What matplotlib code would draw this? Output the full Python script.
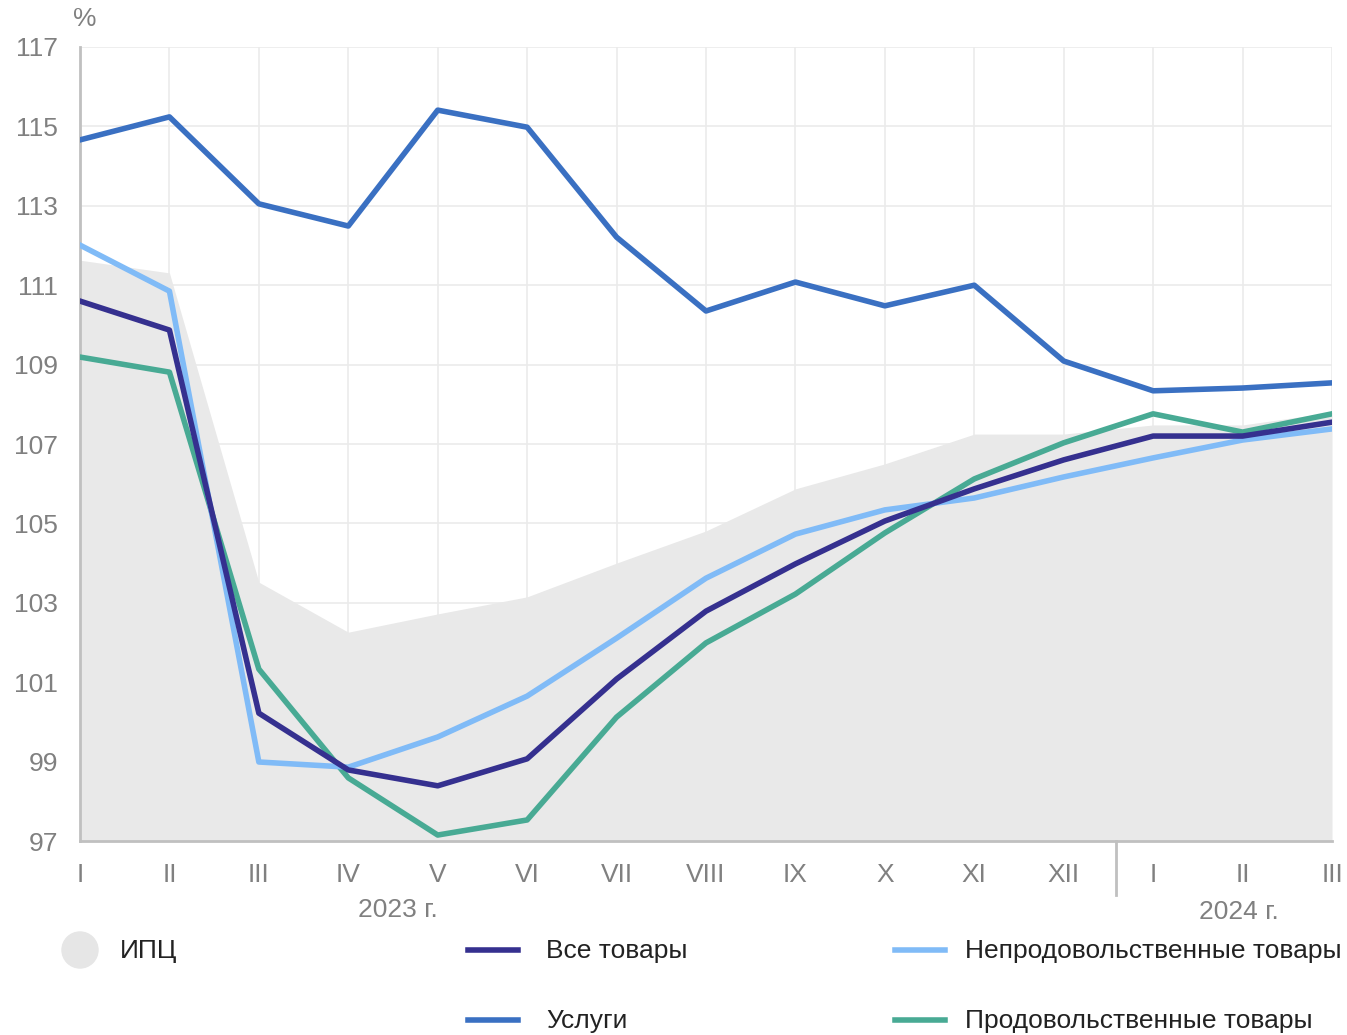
import numpy as np
import matplotlib.pyplot as plt
from matplotlib.lines import Line2D
from matplotlib.patches import Ellipse

plt.rcParams['font.family'] = ['Liberation Sans', 'DejaVu Sans']

MONTHS = ["I", "II", "III", "IV", "V", "VI", "VII", "VIII", "IX", "X", "XI", "XII", "I", "II", "III"]

cpi = [111.63, 111.31, 103.52, 102.26, 102.72, 103.15, 104.0, 104.81, 105.87, 106.5, 107.25, 107.25, 107.48, 107.48, 107.8]
services = [114.66, 115.24, 113.05, 112.49, 115.41, 114.98, 112.21, 110.35, 111.08, 110.48, 111.0, 109.09, 108.34, 108.41, 108.54]
all_goods = [110.6, 109.87, 100.22, 98.79, 98.39, 99.07, 101.08, 102.79, 103.98, 105.06, 105.87, 106.6, 107.2, 107.2, 107.55]
non_food = [112.01, 110.85, 98.99, 98.86, 99.62, 100.65, 102.11, 103.62, 104.73, 105.34, 105.64, 106.17, 106.65, 107.1, 107.38]
food = [109.19, 108.81, 101.33, 98.59, 97.15, 97.53, 100.12, 101.99, 103.22, 104.76, 106.12, 107.03, 107.76, 107.3, 107.76]

C_CPI = "#e9e9e9"
C_ALL = "#35308f"
C_SERV = "#3a70c2"
C_NONFOOD = "#80bbf7"
C_FOOD = "#48aa94"
TXT = "#808080"
FS = 19

fig = plt.figure(figsize=(13.47, 10.35), dpi=100)
ax = fig.add_axes([80/1347, 1-841/1035, (1332-80)/1347, (841-47)/1035])

x = np.arange(len(MONTHS))
ax.fill_between(x, 97, cpi, color=C_CPI, lw=0, zorder=1)
ax.plot(x, services, color=C_SERV, lw=4, zorder=3)
ax.plot(x, food, color=C_FOOD, lw=4, zorder=3)
ax.plot(x, non_food, color=C_NONFOOD, lw=4, zorder=4)
ax.plot(x, all_goods, color=C_ALL, lw=4, zorder=5)

ax.set_xlim(0, len(MONTHS)-1)
ax.set_ylim(97, 117)
ax.set_yticks(np.arange(97, 118, 2))
ax.set_xticks(x)
ax.set_xticklabels(MONTHS)
ax.grid(True, color="#ebebeb", lw=1.2, zorder=0)
ax.set_axisbelow(True)
for s in ["top", "right"]:
    ax.spines[s].set_visible(False)
ax.spines["left"].set_color("#c0c0c0")
ax.spines["left"].set_linewidth(2)
ax.spines["bottom"].set_color("#c0c0c0")
ax.spines["bottom"].set_linewidth(2)
ax.tick_params(length=0, labelsize=FS, colors=TXT, pad=16)
ax.tick_params(axis="y", pad=16)

def fx(px):
    return px/1347
def fy(py):
    return 1-py/1035

fig.text(fx(73), fy(19), "%", fontsize=FS, color=TXT, va="center")

# year separator
ax.plot([11.58, 11.58], [97, 95.65], color="#c0c0c0", lw=2, clip_on=False)
ax.text(3.55, 95.27, "2023 г.", fontsize=FS, color=TXT, ha="center", va="center")
ax.text(12.96, 95.2, "2024 г.", fontsize=FS, color=TXT, ha="center", va="center")

# legend
fig.patches.append(Ellipse((fx(80), fy(950)), 36/1347, 36/1035, transform=fig.transFigure, color="#e6e6e6"))
fig.text(fx(120), fy(951), "ИПЦ", fontsize=FS, color="#222222", va="center")
items = [(468, 546, 950, C_ALL, "Все товары"), (895, 965, 950, C_NONFOOD, "Непродовольственные товары"),
         (468, 546, 1020, C_SERV, "Услуги"), (895, 965, 1020, C_FOOD, "Продовольственные товары")]
for lx, tx, py, c, t in items:
    fig.lines.append(Line2D([fx(lx), fx(lx+50)], [fy(py), fy(py)], transform=fig.transFigure, color=c, lw=4))
    fig.text(fx(tx), fy(py+1), t, fontsize=FS, color="#222222", va="center")

fig.savefig("out.png", dpi=100)
